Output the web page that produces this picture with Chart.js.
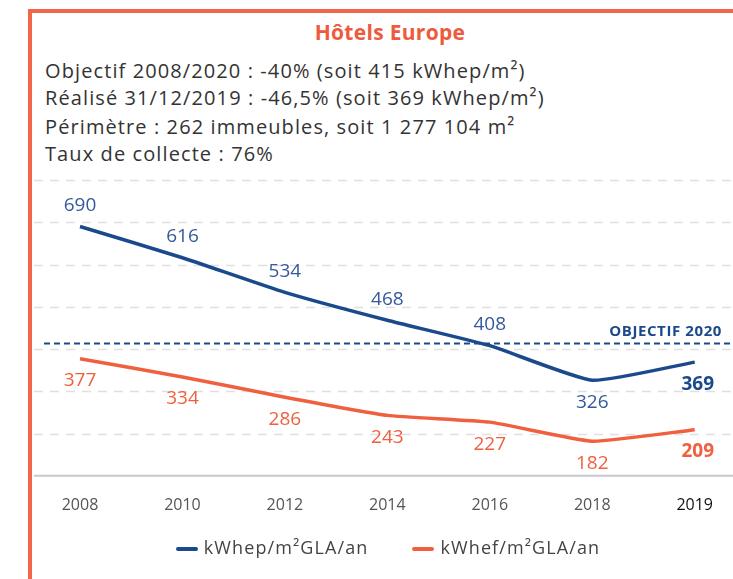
<!DOCTYPE html>
<html lang="fr">
<head>
<meta charset="utf-8">
<script src="https://cdn.jsdelivr.net/npm/chart.js@4"></script>
<style>
  body { margin: 0; background: #fff; width: 733px; height: 579px; overflow: hidden; position: relative; font-family: "Open Sans", sans-serif; }
  #frame { position: absolute; left: 28px; top: 9px; width: 720px; height: 590px; border-left: 4px solid #F26548; border-top: 4px solid #F26548; box-sizing: border-box; }
  #title { position: absolute; left: 0; width: 780px; top: 18px; text-align: center; color: #EE5A3C; font-weight: bold; font-size: 21px; letter-spacing: 0.3px; }
  .info { position: absolute; left: 45px; color: #333; font-size: 20px; letter-spacing: 1.1px; }
  #legend { position: absolute; top: 535px; left: 0; width: 776px; text-align: center; font-size: 18px; color: #444; letter-spacing: 1.1px; }
  #legend span.item { display: inline-block; margin: 0 22px; }
  #legend span.mark { display: inline-block; width: 22px; height: 4px; border-radius: 2px; vertical-align: middle; margin-right: 6px; }
  canvas { position: absolute; left: 0; top: 0; }
</style>
</head>
<body>
<div id="frame"></div>
<div id="title">Hôtels Europe</div>
<div class="info" style="top:57px">Objectif 2008/2020 : -40% (soit 415 kWhep/m²)</div>
<div class="info" style="top:84px">Réalisé 31/12/2019 : -46,5% (soit 369 kWhep/m²)</div>
<div class="info" style="top:113px">Périmètre : 262 immeubles, soit 1 277 104 m²</div>
<div class="info" style="top:140px">Taux de collecte : 76%</div>
<canvas id="myChart" width="733" height="579"></canvas>
<div id="legend"></div>
<script>
const ctx = document.getElementById('myChart');

// data
const years = ['2008', '2010', '2012', '2014', '2016', '2018', '2019'];
const kwhep = [690, 616, 534, 468, 408, 326, 369];
const kwhef = [377, 334, 286, 243, 227, 182, 209];
const objectif = 415;
const gridValues = [200, 300, 400, 500, 600, 700, 800];

const blue = '#1B4A8C';
const blueText = '#34599C';
const orange = '#F0603E';

// dashed grid, axis line and objective line, drawn across the whole frame
const backPlugin = {
    id: 'back',
    beforeDatasetsDraw(chart) {
        const c = chart.ctx;
        const y = chart.scales.y;
        c.save();
        c.strokeStyle = '#E0E0E0';
        c.lineWidth = 1.5;
        c.setLineDash([9, 7]);
        gridValues.forEach(function (v) {
            const py = Math.round(y.getPixelForValue(v)) + 0.5;
            c.beginPath();
            c.moveTo(34, py);
            c.lineTo(733, py);
            c.stroke();
        });
        c.setLineDash([]);
        c.strokeStyle = '#C8C8C8';
        c.lineWidth = 2;
        const by = chart.chartArea.bottom;
        c.beginPath();
        c.moveTo(34, by);
        c.lineTo(733, by);
        c.stroke();

        // objectif
        const oy = Math.round(y.getPixelForValue(objectif)) + 0.5;
        c.strokeStyle = blue;
        c.lineWidth = 2;
        c.setLineDash([6, 4]);
        c.beginPath();
        c.moveTo(44, oy);
        c.lineTo(733, oy);
        c.stroke();
        c.setLineDash([]);
        c.fillStyle = blue;
        c.font = 'bold 15px "Open Sans"';
        c.letterSpacing = '0.6px';
        c.textAlign = 'right';
        c.textBaseline = 'bottom';
        c.fillText('OBJECTIF 2020', 722, oy - 4);
        c.restore();
    }
};

const labelPlugin = {
    id: 'vals',
    afterDatasetsDraw(chart) {
        const c = chart.ctx;
        c.save();
        c.textAlign = 'center';
        c.textBaseline = 'middle';
        chart.data.datasets.forEach(function (ds, i) {
            const meta = chart.getDatasetMeta(i);
            meta.data.forEach(function (pt, j) {
                const last = j === ds.data.length - 1;
                let below = i === 1 || j >= 5;
                let dy = below ? 22 : -21;
                c.font = (last ? 'bold ' : '') + '19px "Open Sans"';
                c.fillStyle = i === 0 ? (last ? blue : blueText) : orange;
                c.fillText(ds.data[j], pt.x + (last ? 3 : 0), pt.y + dy);
            });
        });
        c.restore();
    }
};

new Chart(ctx, {
    type: 'line',
    data: {
        labels: years,
        datasets: [
            {
                label: 'kWhep/m²GLA/an',
                data: kwhep,
                borderColor: blue,
                backgroundColor: blue,
                borderWidth: 3.5,
                pointRadius: 0,
                tension: 0.15
            },
            {
                label: 'kWhef/m²GLA/an',
                data: kwhef,
                borderColor: orange,
                backgroundColor: orange,
                borderWidth: 3.5,
                pointRadius: 0,
                tension: 0.15
            }
        ]
    },
    options: {
        responsive: false,
        animation: false,
        layout: {
            padding: { left: 80, right: 33, top: 180, bottom: 44 }
        },
        scales: {
            x: {
                offset: false,
                grid: { display: false, drawTicks: false },
                border: { display: false },
                ticks: {
                    padding: 20,
                    maxRotation: 0,
                    autoSkip: false,
                    font: { family: 'Open Sans', size: 16 },
                    color: function (c) { return c.index === years.length - 1 ? '#111' : '#555'; }
                }
            },
            y: {
                display: false,
                min: 100,
                max: 800
            }
        },
        plugins: {
            legend: { display: false },
            tooltip: { enabled: false }
        }
    },
    plugins: [backPlugin, labelPlugin]
});

// legend
const legend = document.getElementById('legend');
[[blue, 'kWhep/m²GLA/an'], [orange, 'kWhef/m²GLA/an']].forEach(function (it) {
    legend.innerHTML += '<span class="item"><span class="mark" style="background:' + it[0] + '"></span>' + it[1] + '</span>';
});
</script>
</body>
</html>
